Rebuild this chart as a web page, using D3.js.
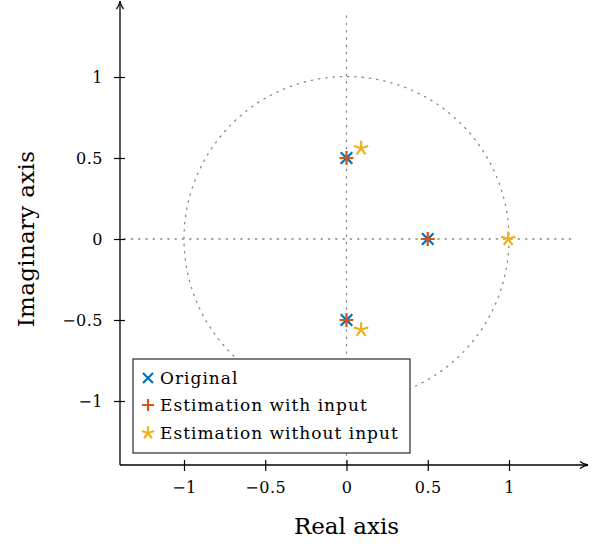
<!DOCTYPE html>
<html>
<head>
<meta charset="utf-8">
<script src="https://cdn.jsdelivr.net/npm/d3@7"></script>
<style>
  body { margin: 0; background: #fff; }
  svg text { font-family: "DejaVu Serif", serif; fill: #000; }
</style>
</head>
<body>
<div class="canvas"></div>
<script>
// pole locations, [real, imaginary]
const originalPoles = [[0, 0.5], [0, -0.5], [0.5, 0]];
const withInputPoles = [[0, 0.5], [0, -0.5], [0.5, 0]];
const withoutInputPoles = [[0.09, 0.56], [0.09, -0.56], [0.995, 0]];
const seriesNames = ["Original", "Estimation with input", "Estimation without input"];
const seriesColors = ["#0072BD", "#D95319", "#EDB120"];
const tickValues = [-1, -0.5, 0, 0.5, 1];

const width = 602, height = 544;
const fontName = "DejaVu Serif";
const svg = d3.select(".canvas").append("svg")
    .attr("width", width)
    .attr("height", height);

const x = d3.scaleLinear().domain([-1, 1]).range([184, 509]);
const y = d3.scaleLinear().domain([-1, 1]).range([401, 77]);

const axisX = 120, axisY = 465;
const fmt = d => d < 0 ? "\u2212" + Math.abs(d) : String(d);

// dotted guides: unit circle + axes through origin
const guides = svg.append("g")
    .attr("stroke", "#888")
    .attr("stroke-width", 1.3)
    .attr("stroke-dasharray", "1.3,6")
    .attr("stroke-linecap", "round")
    .attr("fill", "none");
guides.append("line")
    .attr("x1", axisX + 4).attr("x2", 572)
    .attr("y1", y(0)).attr("y2", y(0));
guides.append("line")
    .attr("x1", x(0)).attr("x2", x(0))
    .attr("y1", 16).attr("y2", axisY);
guides.append("circle")
    .attr("cx", x(0)).attr("cy", y(0))
    .attr("r", x(1) - x(0));

// axes
const defs = svg.append("defs");
defs.append("marker")
    .attr("id", "arrow")
    .attr("viewBox", "0 0 10 10")
    .attr("refX", 9).attr("refY", 5)
    .attr("markerWidth", 10).attr("markerHeight", 10)
    .attr("markerUnits", "userSpaceOnUse")
    .attr("orient", "auto")
    .append("path")
    .attr("d", "M1,1.5 Q5,4.5 9,5 Q5,5.5 1,8.5")
    .attr("fill", "none")
    .attr("stroke", "#000")
    .attr("stroke-width", 1.3);

const xAxis = d3.axisBottom(x).tickValues(tickValues).tickFormat(fmt).tickSize(6).tickPadding(11);
const xAxisGroup = svg.append("g").attr("transform", `translate(0, ${axisY})`).call(xAxis);
xAxisGroup.attr("font-family", fontName).attr("font-size", 16);
xAxisGroup.select(".domain").remove();
xAxisGroup.selectAll(".tick line").attr("y1", -5).attr("y2", 6).attr("stroke-width", 1.2);
xAxisGroup.selectAll(".tick text").style("letter-spacing", "0.5px");

const yAxis = d3.axisLeft(y).tickValues(tickValues).tickFormat(fmt).tickSize(6).tickPadding(11);
const yAxisGroup = svg.append("g").attr("transform", `translate(${axisX}, 0)`).call(yAxis);
yAxisGroup.attr("font-family", fontName).attr("font-size", 16);
yAxisGroup.select(".domain").remove();
yAxisGroup.selectAll(".tick line").attr("x1", -6).attr("x2", 5).attr("stroke-width", 1.2);
yAxisGroup.selectAll(".tick text").style("letter-spacing", "0.5px");

svg.append("path")
    .attr("d", `M${axisX},${axisY} H588`)
    .attr("stroke", "#000").attr("stroke-width", 1.3)
    .attr("marker-end", "url(#arrow)");
svg.append("path")
    .attr("d", `M${axisX},${axisY} V1`)
    .attr("stroke", "#000").attr("stroke-width", 1.3)
    .attr("marker-end", "url(#arrow)");

// axis titles
svg.append("text")
    .attr("x", x(0)).attr("y", 534)
    .attr("text-anchor", "middle")
    .attr("font-size", 23)
    .text("Real axis");
svg.append("text")
    .attr("transform", `translate(34, ${y(0)}) rotate(-90)`)
    .attr("text-anchor", "middle")
    .attr("font-size", 23)
    .style("letter-spacing", "0.3px")
    .text("Imaginary axis");

// marker shapes
function markerPath(kind, s) {
    if (kind === 0) return `M${-s},${-s}L${s},${s}M${-s},${s}L${s},${-s}`;
    if (kind === 1) return `M${-s * 1.2},0H${s * 1.2}M0,${-s * 1.2}V${s * 1.2}`;
    let d = "";
    for (let i = 0; i < 5; i++) {
        const a = -Math.PI / 2 + i * 2 * Math.PI / 5;
        d += `M0,0L${(s * 1.3 * Math.cos(a)).toFixed(2)},${(s * 1.3 * Math.sin(a)).toFixed(2)}`;
    }
    return d;
}

const allSeries = [originalPoles, withInputPoles, withoutInputPoles];
allSeries.forEach((poles, k) => {
    svg.append("g").selectAll("path")
        .data(poles)
        .enter()
        .append("path")
        .attr("transform", d => `translate(${x(d[0])}, ${y(d[1])})`)
        .attr("d", markerPath(k, 5.8))
        .attr("fill", "none")
        .attr("stroke", seriesColors[k])
        .attr("stroke-width", 2.2);
});

// legend
const legend = svg.append("g").attr("transform", "translate(133, 359)");
legend.append("rect")
    .attr("width", 277).attr("height", 94)
    .attr("fill", "#fff")
    .attr("stroke", "#000")
    .attr("stroke-width", 1);
const rowY = [19, 46, 74];
legend.selectAll(".sym")
    .data(seriesNames)
    .enter()
    .append("path")
    .attr("transform", (d, i) => `translate(15, ${rowY[i]})`)
    .attr("d", (d, i) => markerPath(i, 5))
    .attr("fill", "none")
    .attr("stroke", (d, i) => seriesColors[i])
    .attr("stroke-width", 2.2);
legend.selectAll(".lbl")
    .data(seriesNames)
    .enter()
    .append("text")
    .attr("x", 27)
    .attr("y", (d, i) => rowY[i])
    .attr("dy", "0.35em")
    .attr("font-size", 17)
    .style("letter-spacing", "1px")
    .text(d => d);
</script>
</body>
</html>
